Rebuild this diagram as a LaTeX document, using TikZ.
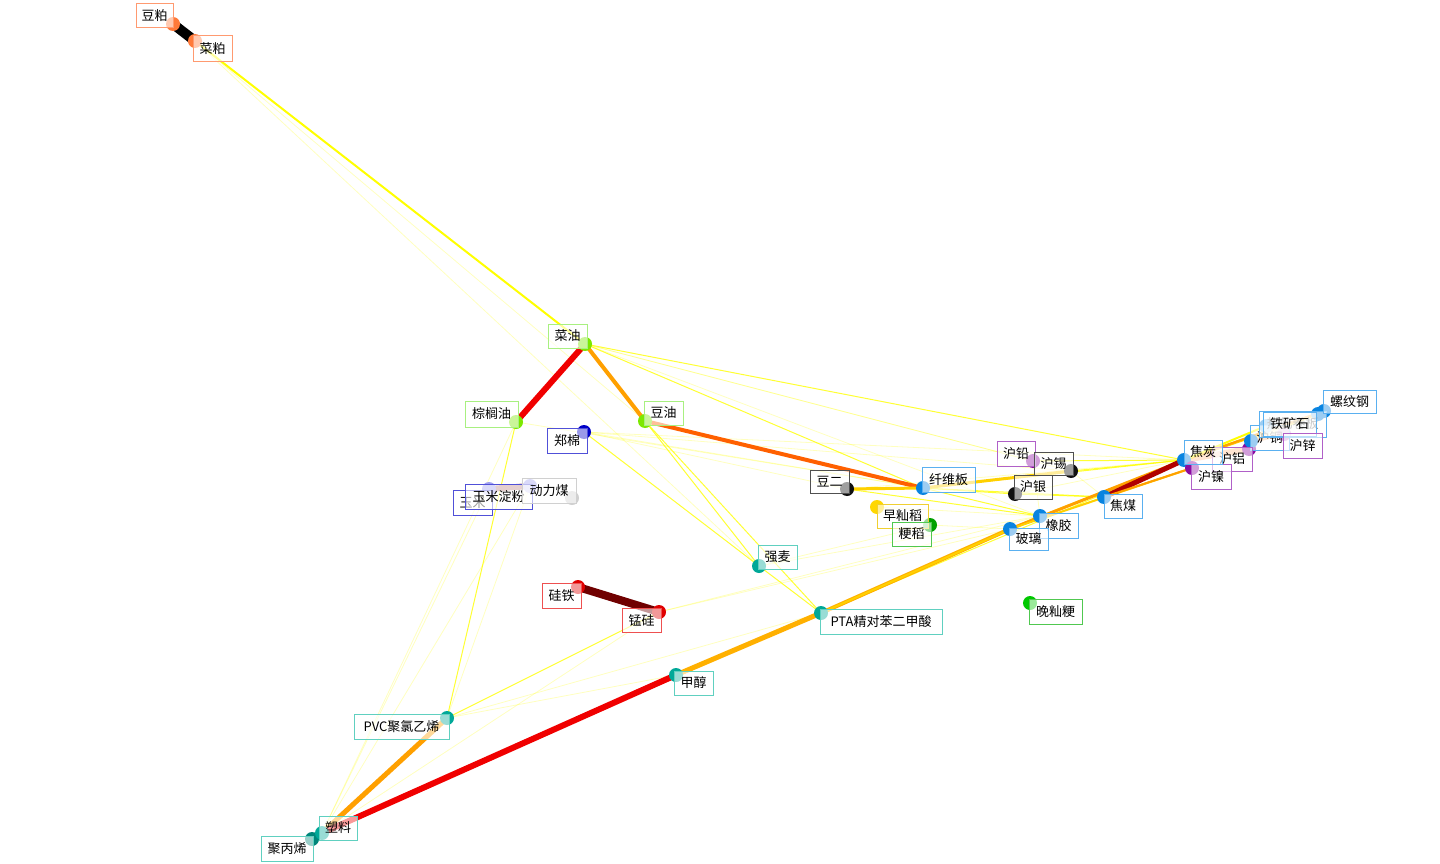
\documentclass[tikz,border=0pt]{standalone}
\usepackage{fontspec}
\newfontfamily\cjk{Noto Sans CJK SC}
\definecolor{cCoralDot}{HTML}{FF7A3A}
\definecolor{cCoralBox}{HTML}{FF9A70}
\definecolor{cGreenDot}{HTML}{7CE800}
\definecolor{cGreenBox}{HTML}{A8F080}
\definecolor{cNavyDot}{HTML}{0000C8}
\definecolor{cNavyBox}{HTML}{5050D8}
\definecolor{cLavDot}{HTML}{A0A0F0}
\definecolor{cGrayDot}{HTML}{D0D0D0}
\definecolor{cGrayBox}{HTML}{D0D0D0}
\definecolor{cBlkDot}{HTML}{101010}
\definecolor{cBlkBox}{HTML}{505050}
\definecolor{cBlueDot}{HTML}{0A84E0}
\definecolor{cBlueBox}{HTML}{5AB0F0}
\definecolor{cPurpDot}{HTML}{8C0AA0}
\definecolor{cPurpBox}{HTML}{B060C8}
\definecolor{cGoldDot}{HTML}{FFD700}
\definecolor{cGoldBox}{HTML}{F0D030}
\definecolor{cLimeDot}{HTML}{00C800}
\definecolor{cLimeBox}{HTML}{50C850}
\definecolor{cTealDot}{HTML}{00A898}
\definecolor{cTealBox}{HTML}{60D0C0}
\definecolor{cRedDot}{HTML}{E00000}
\definecolor{cRedBox}{HTML}{EE5050}
\definecolor{eYel}{HTML}{FFFF00}
\definecolor{eGold}{HTML}{FFD000}
\definecolor{eAmber}{HTML}{FFB000}
\definecolor{eOrange}{HTML}{FFA000}
\definecolor{eDeepOr}{HTML}{FF6000}
\definecolor{eRed}{HTML}{F00000}
\definecolor{eMaroon}{HTML}{700000}
\definecolor{eDkRed}{HTML}{B00000}
\definecolor{ePeach}{HTML}{FFC090}
\definecolor{eRosy}{HTML}{C08888}
\definecolor{eTeal}{HTML}{008070}
\tikzset{
  dot/.style={circle, inner sep=0pt, minimum size=14pt, fill=#1},
  labbox/.style={draw=#1, line width=1pt, fill=white, fill opacity=0.6, text opacity=1, draw opacity=1,
                 font=\cjk\fontsize{13}{14}\selectfont, inner sep=0pt},
  thin/.style={draw=eYel, line width=1pt, opacity=0.8},
  faint/.style={draw=eYel, line width=0.8pt, opacity=0.25},
  heavy/.style={line width=#1}
}
\newcommand{\lab}[7]{\node[labbox=#6, minimum width={#4pt-#2pt}, minimum height={#5pt-#3pt}]
  (#1) at ({(#2+#4)/2},{(#3+#5)/2}) {#7};}
\begin{document}
\begin{tikzpicture}[x=1pt,y=-1pt,line cap=round]
\useasboundingbox[fill=white] (0,0) rectangle (1440,864);
% positions of the dots
\coordinate (dp) at (173,24);
\coordinate (cp) at (195,41);
\coordinate (cy) at (585,344);
\coordinate (zly) at (516,422);
\coordinate (dy) at (645,421);
\coordinate (zm) at (584,432);
\coordinate (ym) at (489,489);
\coordinate (ymdf) at (530,486);
\coordinate (dlm) at (572,498);
\coordinate (de) at (847,489);
\coordinate (xwb) at (923,488);
\coordinate (pb) at (1033,461);
\coordinate (sn) at (1071,471);
\coordinate (ag) at (1015,494);
\coordinate (zxd) at (877,507);
\coordinate (jd) at (930,525);
\coordinate (xj) at (1040,516);
\coordinate (bl) at (1010,529);
\coordinate (jm) at (1104,497);
\coordinate (jt) at (1184,460);
\coordinate (ni) at (1192,468);
\coordinate (al) at (1249,449);
\coordinate (cu) at (1251,441);
\coordinate (tks) at (1266,426);
\coordinate (rz) at (1318,414);
\coordinate (zn) at (1284,434);
\coordinate (lwg) at (1324,411);
\coordinate (qm) at (759,566);
\coordinate (gt) at (578,587);
\coordinate (mg) at (659,612);
\coordinate (pta) at (821,613);
\coordinate (jc) at (676,675);
\coordinate (pvc) at (447,718);
\coordinate (sl) at (322,833);
\coordinate (jbx) at (312,839);
\coordinate (wx) at (1030,603);
% faint connectors
\foreach \a/\b in {cp/dy, cp/qm, zly/sl, zly/xwb, ymdf/sl, ymdf/pvc, ym/sl, mg/sl, mg/xj, mg/bl,
  qm/xj, qm/jd, zm/de, zm/xwb, zm/sn, pvc/jc, pvc/pta, cy/pb, cy/xj, cy/sn, zxd/xj, jd/bl,
  de/jt, pb/xj, sn/jm, ag/jt, zm/jt}
  \draw[faint] (\a) -- (\b);
% thin connectors
\foreach \a/\b in {cy/jt, cy/xwb, dy/qm, dy/pta, zm/qm, qm/pta, zly/pvc, mg/pvc, sl/pta,
  de/xj, xwb/xj, xwb/jm, xwb/jt, ag/jm, pb/jt, sn/jt, xwb/ag, xj/jt, pta/jt, bl/jm, al/tks, cu/rz}
  \draw[thin] (\a) -- (\b);
% heavier connectors
\draw[eYel, heavy=2pt] (cp) -- (cy);
\draw[black, heavy=10pt] (dp) -- (cp);
\draw[eRed, heavy=6pt] (cy) -- (zly);
\draw[eOrange, heavy=4pt] (cy) -- (dy);
\draw[eDeepOr, heavy=4pt] (dy) -- (xwb);
\draw[eGold, heavy=3pt] (de) -- (xwb);
\draw[eGold, heavy=3pt] (xwb) -- (sn);
\draw[eRosy, heavy=6pt] (ym) -- (ymdf);
\draw[eMaroon, heavy=8pt] (gt) -- (mg);
\draw[eOrange, heavy=5pt] (pvc) -- (sl);
\draw[eRed, heavy=6pt] (sl) -- (jc);
\draw[eAmber, heavy=5pt] (jc) -- (pta);
\draw[eAmber, heavy=4pt] (pta) -- (bl);
\draw[eGold, heavy=2pt] (pta) -- (xj);
\draw[eOrange, heavy=3pt] (bl) -- (jt);
\draw[eGold, heavy=2pt] (bl) -- (ni);
\draw[eDkRed, heavy=5pt] (jm) -- (jt);
\draw[eOrange, heavy=2pt] (jm) -- (ni);
\draw[ePeach, heavy=6pt] (jt) -- (al);
\draw[eGold, heavy=3pt] (jt) -- (rz);
\draw[eOrange, heavy=2pt] (jt) -- (lwg);
\draw[eYel, heavy=2pt] (jt) -- (tks);
\draw[ePeach, heavy=4pt] (cu) -- (zn);
\draw[eTeal, heavy=8pt] (sl) -- (jbx);
% dots
\node[dot=cCoralDot] (ndp) at (dp) {};
\node[dot=cCoralDot] (ncp) at (cp) {};
\node[dot=cGreenDot] (ncy) at (cy) {};
\node[dot=cGreenDot] (nzly) at (zly) {};
\node[dot=cGreenDot] (ndy) at (dy) {};
\node[dot=cNavyDot] (nzm) at (zm) {};
\node[dot=cLavDot] (nym) at (ym) {};
\node[dot=cLavDot] (nymdf) at (ymdf) {};
\node[dot=cGrayDot] (ndlm) at (dlm) {};
\node[dot=cBlkDot] (nde) at (de) {};
\node[dot=cBlueDot] (nxwb) at (xwb) {};
\node[dot=cPurpDot] (npb) at (pb) {};
\node[dot=cBlkDot] (nsn) at (sn) {};
\node[dot=cBlkDot] (nag) at (ag) {};
\node[dot=cGoldDot] (nzxd) at (zxd) {};
\node[dot=cLimeDot!80!black] (njd) at (jd) {};
\node[dot=cBlueDot] (nxj) at (xj) {};
\node[dot=cBlueDot] (nbl) at (bl) {};
\node[dot=cBlueDot] (njm) at (jm) {};
\node[dot=cBlueDot] (nrz) at (rz) {};
\node[dot=cBlueDot] (ntks) at (tks) {};
\node[dot=cPurpDot] (nzn) at (zn) {};
\node[dot=cPurpDot] (nal) at (al) {};
\node[dot=cBlueDot] (ncu) at (cu) {};
\node[dot=cBlueDot] (nlwg) at (lwg) {};
\node[dot=cBlueDot] (njt) at (jt) {};
\node[dot=cPurpDot] (nni) at (ni) {};
\node[dot=cTealDot] (nqm) at (qm) {};
\node[dot=cRedDot] (ngt) at (gt) {};
\node[dot=cRedDot] (nmg) at (mg) {};
\node[dot=cTealDot] (npta) at (pta) {};
\node[dot=cTealDot] (njc) at (jc) {};
\node[dot=cTealDot] (npvc) at (pvc) {};
\node[dot=cTealDot!80!black] (njbx) at (jbx) {};
\node[dot=cTealDot] (nsl) at (sl) {};
\node[dot=cLimeDot] (nwx) at (wx) {};
% labels
\lab{ldp}{136}{4}{173}{28}{cCoralBox}{豆粕}
\lab{lcp}{193}{36}{232}{62}{cCoralBox}{菜粕}
\lab{lcy}{548}{324}{587}{348}{cGreenBox}{菜油}
\lab{lzly}{465}{401}{518}{427}{cGreenBox}{棕榈油}
\lab{ldy}{644}{401}{683}{425}{cGreenBox}{豆油}
\lab{lzm}{547}{428}{587}{453}{cNavyBox}{郑棉}
\lab{lym}{453}{490}{492}{515}{cNavyBox}{玉米}
\lab{lymdf}{465}{484}{532}{509}{cNavyBox}{玉米淀粉}
\lab{ldlm}{522}{478}{576}{503}{cGrayBox}{动力煤}
\lab{lde}{810}{470}{849}{493}{cBlkBox}{豆二}
\lab{lxwb}{922}{467}{975}{492}{cBlueBox}{纤维板}
\lab{lpb}{997}{441}{1035}{466}{cPurpBox}{沪铅}
\lab{lsn}{1034}{452}{1073}{475}{cBlkBox}{沪锡}
\lab{lag}{1014}{475}{1052}{499}{cBlkBox}{沪银}
\lab{lzxd}{877}{504}{928}{528}{cGoldBox}{早籼稻}
\lab{ljd}{892}{522}{931}{546}{cLimeBox}{粳稻}
\lab{lxj}{1039}{513}{1078}{538}{cBlueBox}{橡胶}
\lab{lbl}{1009}{528}{1048}{550}{cBlueBox}{玻璃}
\lab{ljm}{1104}{494}{1142}{518}{cBlueBox}{焦煤}
\lab{lcu}{1250}{425}{1289}{450}{cBlueBox}{沪铜}
\lab{lal}{1212}{447}{1252}{471}{cPurpBox}{沪铝}
\lab{lni}{1191}{464}{1231}{489}{cPurpBox}{沪镍}
\lab{ljt}{1184}{440}{1222}{464}{cBlueBox}{焦炭}
\lab{lrz}{1259}{411}{1326}{437}{cBlueBox}{\textcolor{gray}{热轧卷板}}
\lab{ltks}{1263}{412}{1316}{436}{cBlueBox}{铁矿石}
\lab{lzn}{1283}{433}{1322}{458}{cPurpBox}{沪锌}
\lab{llwg}{1323}{390}{1376}{413}{cBlueBox}{螺纹钢}
\lab{lqm}{758}{545}{797}{569}{cTealBox}{强麦}
\lab{lgt}{542}{583}{581}{608}{cRedBox}{硅铁}
\lab{lmg}{622}{608}{661}{632}{cRedBox}{锰硅}
\lab{lpta}{820}{609}{942}{634}{cTealBox}{PTA精对苯二甲酸}
\lab{ljc}{674}{671}{713}{695}{cTealBox}{甲醇}
\lab{lpvc}{354}{714}{449}{739}{cTealBox}{PVC聚氯乙烯}
\lab{lsl}{319}{816}{357}{840}{cTealBox}{塑料}
\lab{ljbx}{261}{836}{313}{861}{cTealBox}{聚丙烯}
\lab{lwx}{1029}{599}{1082}{624}{cLimeBox}{晚籼粳}
\end{tikzpicture}
\end{document}
